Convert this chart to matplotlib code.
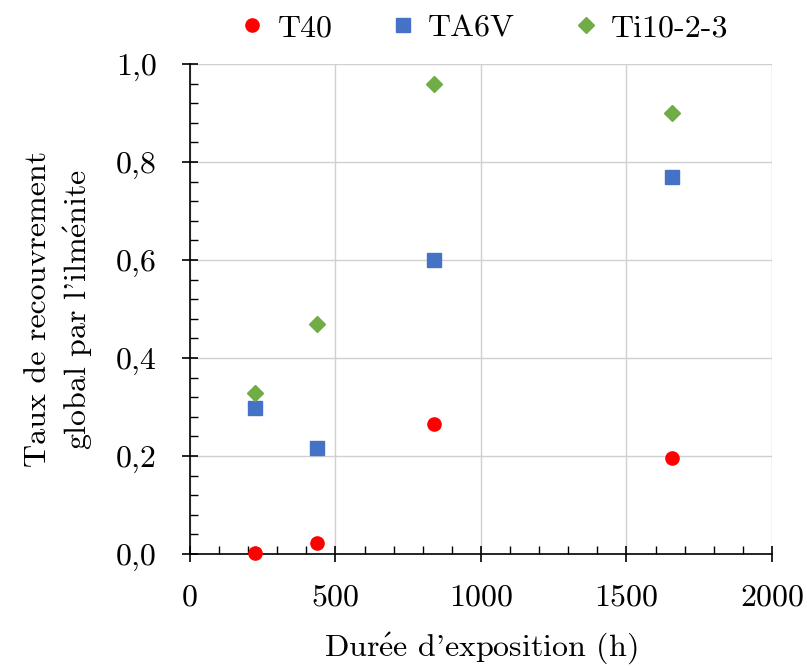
import matplotlib
matplotlib.use("Agg")
import matplotlib.pyplot as plt
from matplotlib.ticker import MultipleLocator, FuncFormatter

plt.rcParams['font.family'] = ['cmr10', 'DejaVu Serif']
plt.rcParams['mathtext.fontset'] = 'cm'
plt.rcParams['axes.formatter.use_mathtext'] = True

hours = [225, 435, 840, 1655]
t40 = [0.003, 0.023, 0.266, 0.196]
ta6v = [0.297, 0.217, 0.600, 0.770]
ti1023 = [0.328, 0.469, 0.960, 0.901]

fs = 23

fig = plt.figure(figsize=(8.07, 6.66), dpi=100)
ax = fig.add_axes([0.2354, 0.1682, 0.7212, 0.7357])

ax.plot(hours, t40, "o", color="#FF0000", markersize=9.5, label="T40", clip_on=False, zorder=3)
ax.plot(hours, ta6v, "s", color="#4472C4", markersize=10.5, label="TA6V", clip_on=False, zorder=3)
ax.plot(hours, ti1023, "D", color="#70AD47", markersize=8.5, label="Ti10-2-3", clip_on=False, zorder=3)

ax.set_xlim(0, 2000)
ax.set_ylim(0, 1.0)
ax.xaxis.set_major_locator(MultipleLocator(500))
ax.xaxis.set_minor_locator(MultipleLocator(100))
ax.yaxis.set_major_locator(MultipleLocator(0.2))
ax.yaxis.set_minor_locator(MultipleLocator(0.04))
ax.yaxis.set_major_formatter(FuncFormatter(lambda v, p: f"{v:.1f}".replace(".", ",")))
ax.xaxis.set_major_formatter(FuncFormatter(lambda v, p: f"{int(v)}"))

ax.grid(which="major", color="#D0D0D0", linewidth=1)
ax.set_axisbelow(True)
for s in ["top", "right"]:
    ax.spines[s].set_visible(False)
ax.spines["left"].set_linewidth(1.2)
ax.spines["bottom"].set_linewidth(1.2)

ax.tick_params(which="major", direction="inout", length=12, width=1.2, labelsize=fs)
ax.tick_params(axis="y", which="major", pad=18)
ax.tick_params(axis="x", which="major", pad=16)
ax.tick_params(which="minor", direction="in", length=6, width=1.0)

ax.set_xlabel(r"Dur$\mathrm{\acute{e}}$e d'exposition (h)", fontsize=fs, labelpad=13)
ax.set_ylabel("Taux de recouvrement\n" + r"global par l'ilm$\mathrm{\acute{e}}$nite",
              fontsize=fs, labelpad=15, linespacing=1.35)

ax.legend(loc="center", bbox_to_anchor=(0.505, 1.073), ncol=3, frameon=False,
          fontsize=fs, handlelength=0.8, handletextpad=0.4, columnspacing=1.8,
          numpoints=1)

fig.savefig("out.png", dpi=100)
